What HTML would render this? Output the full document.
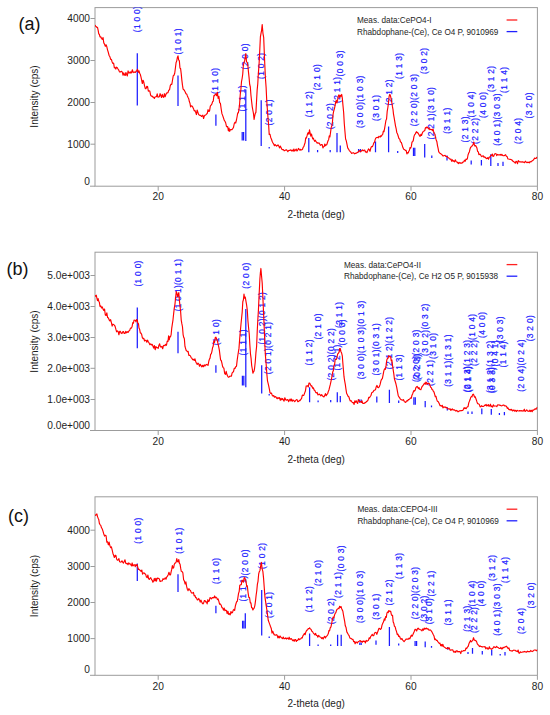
<!DOCTYPE html>
<html><head><meta charset="utf-8"><style>
html,body{margin:0;padding:0;background:#fff;}
body{width:550px;height:715px;overflow:hidden;}
svg{display:block;}
</style></head><body>
<svg width="550" height="715" viewBox="0 0 550 715">
<clipPath id="clip0"><rect x="95.0" y="7.6" width="442.4" height="178.6"/></clipPath>
<rect x="95.0" y="7.6" width="442.4" height="178.6" fill="none" stroke="#9c9c9c" stroke-width="1"/>
<line x1="90.0" y1="186.2" x2="95.0" y2="186.2" stroke="#9c9c9c" stroke-width="1"/>
<text x="90.0" y="184.6" font-size="10.2" text-anchor="end" fill="#1e1e1e" font-family="Liberation Sans, sans-serif">0</text>
<line x1="90.5" y1="144.2" x2="95.0" y2="144.2" stroke="#9c9c9c" stroke-width="1"/>
<text x="90.0" y="147.8" font-size="10.2" text-anchor="end" fill="#1e1e1e" font-family="Liberation Sans, sans-serif">1000</text>
<line x1="90.5" y1="102.5" x2="95.0" y2="102.5" stroke="#9c9c9c" stroke-width="1"/>
<text x="90.0" y="106.1" font-size="10.2" text-anchor="end" fill="#1e1e1e" font-family="Liberation Sans, sans-serif">2000</text>
<line x1="90.5" y1="60.5" x2="95.0" y2="60.5" stroke="#9c9c9c" stroke-width="1"/>
<text x="90.0" y="64.1" font-size="10.2" text-anchor="end" fill="#1e1e1e" font-family="Liberation Sans, sans-serif">3000</text>
<line x1="90.5" y1="18.5" x2="95.0" y2="18.5" stroke="#9c9c9c" stroke-width="1"/>
<text x="90.0" y="22.1" font-size="10.2" text-anchor="end" fill="#1e1e1e" font-family="Liberation Sans, sans-serif">4000</text>
<line x1="158.2" y1="186.2" x2="158.2" y2="190.7" stroke="#9c9c9c" stroke-width="1"/>
<text x="158.2" y="200.4" font-size="10.2" text-anchor="middle" fill="#1e1e1e" font-family="Liberation Sans, sans-serif">20</text>
<line x1="284.6" y1="186.2" x2="284.6" y2="190.7" stroke="#9c9c9c" stroke-width="1"/>
<text x="284.6" y="200.4" font-size="10.2" text-anchor="middle" fill="#1e1e1e" font-family="Liberation Sans, sans-serif">40</text>
<line x1="411.0" y1="186.2" x2="411.0" y2="190.7" stroke="#9c9c9c" stroke-width="1"/>
<text x="411.0" y="200.4" font-size="10.2" text-anchor="middle" fill="#1e1e1e" font-family="Liberation Sans, sans-serif">60</text>
<line x1="537.4" y1="186.2" x2="537.4" y2="190.7" stroke="#9c9c9c" stroke-width="1"/>
<text x="537.4" y="200.4" font-size="10.2" text-anchor="middle" fill="#1e1e1e" font-family="Liberation Sans, sans-serif">80</text>
<text x="316.2" y="218.2" font-size="10" text-anchor="middle" fill="#1e1e1e" font-family="Liberation Sans, sans-serif">2-theta (deg)</text>
<text transform="translate(37.8,96.5) rotate(-90)" font-size="10" text-anchor="middle" fill="#1e1e1e" font-family="Liberation Sans, sans-serif">Intensity (cps)</text>
<text x="18.6" y="29.5" font-size="18" fill="#111" font-family="Liberation Sans, sans-serif">(a)</text>
<text x="357.0" y="23.0" font-size="8.2" fill="#1e1e1e" font-family="Liberation Sans, sans-serif">Meas. data:CePO4-I</text>
<text x="357.0" y="34.6" font-size="8.2" fill="#1e1e1e" font-family="Liberation Sans, sans-serif">Rhabdophane-(Ce), Ce O4 P, 9010969</text>
<line x1="506.6" y1="20.0" x2="517.3" y2="20.0" stroke="#ff2020" stroke-width="1.3"/>
<line x1="506.6" y1="31.6" x2="517.3" y2="31.6" stroke="#2020ff" stroke-width="1.3"/>
<g clip-path="url(#clip0)"><line x1="137.3" y1="53.3" x2="137.3" y2="105.6" stroke="#1c1cff" stroke-width="1.25"/><line x1="178" y1="75.4" x2="178" y2="106" stroke="#1c1cff" stroke-width="1.25"/><line x1="215.9" y1="114.5" x2="215.9" y2="125.8" stroke="#1c1cff" stroke-width="1.25"/><line x1="242.2" y1="132" x2="242.2" y2="140.4" stroke="#1c1cff" stroke-width="1.25"/><line x1="243.6" y1="132" x2="243.6" y2="140.4" stroke="#1c1cff" stroke-width="1.25"/><line x1="245.8" y1="89.4" x2="245.8" y2="141" stroke="#1c1cff" stroke-width="1.25"/><line x1="261.2" y1="100.2" x2="261.2" y2="146" stroke="#1c1cff" stroke-width="1.25"/><line x1="269.2" y1="147" x2="269.2" y2="148.5" stroke="#1c1cff" stroke-width="1.25"/><line x1="308.8" y1="138" x2="308.8" y2="152.3" stroke="#1c1cff" stroke-width="1.25"/><line x1="317.6" y1="150" x2="317.6" y2="152.3" stroke="#1c1cff" stroke-width="1.25"/><line x1="330.2" y1="150" x2="330.2" y2="152.3" stroke="#1c1cff" stroke-width="1.25"/><line x1="337" y1="132.9" x2="337" y2="152.3" stroke="#1c1cff" stroke-width="1.25"/><line x1="340.3" y1="145.5" x2="340.3" y2="152.3" stroke="#1c1cff" stroke-width="1.25"/><line x1="358.6" y1="149" x2="358.6" y2="152.3" stroke="#1c1cff" stroke-width="1.25"/><line x1="360.4" y1="149" x2="360.4" y2="152.3" stroke="#1c1cff" stroke-width="1.25"/><line x1="375.5" y1="141.5" x2="375.5" y2="152.3" stroke="#1c1cff" stroke-width="1.25"/><line x1="388.6" y1="126.6" x2="388.6" y2="152.3" stroke="#1c1cff" stroke-width="1.25"/><line x1="397.7" y1="151" x2="397.7" y2="153" stroke="#1c1cff" stroke-width="1.25"/><line x1="413.5" y1="147.8" x2="413.5" y2="156" stroke="#1c1cff" stroke-width="1.25"/><line x1="414.8" y1="147.8" x2="414.8" y2="156" stroke="#1c1cff" stroke-width="1.25"/><line x1="424.7" y1="144" x2="424.7" y2="157.5" stroke="#1c1cff" stroke-width="1.25"/><line x1="431.8" y1="155.4" x2="431.8" y2="158" stroke="#1c1cff" stroke-width="1.25"/><line x1="447" y1="155.4" x2="447" y2="160.5" stroke="#1c1cff" stroke-width="1.25"/><line x1="471.2" y1="160.5" x2="471.2" y2="164.4" stroke="#1c1cff" stroke-width="1.25"/><line x1="481.4" y1="160" x2="481.4" y2="165.6" stroke="#1c1cff" stroke-width="1.25"/><line x1="490.8" y1="154.2" x2="490.8" y2="166.1" stroke="#1c1cff" stroke-width="1.25"/><line x1="498" y1="163" x2="498" y2="166" stroke="#1c1cff" stroke-width="1.25"/><line x1="503" y1="161.8" x2="503" y2="166" stroke="#1c1cff" stroke-width="1.25"/><text transform="translate(139.9,32.2) rotate(-90)" font-size="8.4" letter-spacing="0.3" fill="#1a1aff" stroke="#1a1aff" stroke-width="0.2" font-family="Liberation Sans, sans-serif">(1 0 0)</text><text transform="translate(181.1,54.4) rotate(-90)" font-size="8.4" letter-spacing="0.3" fill="#1a1aff" stroke="#1a1aff" stroke-width="0.2" font-family="Liberation Sans, sans-serif">(1 0 1)</text><text transform="translate(218.2,93.9) rotate(-90)" font-size="8.4" letter-spacing="0.3" fill="#1a1aff" stroke="#1a1aff" stroke-width="0.2" font-family="Liberation Sans, sans-serif">(1 1 0)</text><text transform="translate(245.0,111.4) rotate(-90)" font-size="8.4" letter-spacing="0.3" fill="#1a1aff" stroke="#1a1aff" stroke-width="0.2" font-family="Liberation Sans, sans-serif">(1 1 1)</text><text transform="translate(248.0,69.4) rotate(-90)" font-size="8.4" letter-spacing="0.3" fill="#1a1aff" stroke="#1a1aff" stroke-width="0.2" font-family="Liberation Sans, sans-serif">(2 0 0)</text><text transform="translate(263.7,78.9) rotate(-90)" font-size="8.4" letter-spacing="0.3" fill="#1a1aff" stroke="#1a1aff" stroke-width="0.2" font-family="Liberation Sans, sans-serif">(1 0 2)</text><text transform="translate(271.7,125.4) rotate(-90)" font-size="8.4" letter-spacing="0.3" fill="#1a1aff" stroke="#1a1aff" stroke-width="0.2" font-family="Liberation Sans, sans-serif">(2 0 1)</text><text transform="translate(311.8,117.2) rotate(-90)" font-size="8.4" letter-spacing="0.3" fill="#1a1aff" stroke="#1a1aff" stroke-width="0.2" font-family="Liberation Sans, sans-serif">(1 1 2)</text><text transform="translate(320.0,90.3) rotate(-90)" font-size="8.4" letter-spacing="0.3" fill="#1a1aff" stroke="#1a1aff" stroke-width="0.2" font-family="Liberation Sans, sans-serif">(2 1 0)</text><text transform="translate(332.9,129.3) rotate(-90)" font-size="8.4" letter-spacing="0.3" fill="#1a1aff" stroke="#1a1aff" stroke-width="0.2" font-family="Liberation Sans, sans-serif">(2 0 2)</text><text transform="translate(339.5,102.9) rotate(-90)" font-size="8.4" letter-spacing="0.3" fill="#1a1aff" stroke="#1a1aff" stroke-width="0.2" font-family="Liberation Sans, sans-serif">(2 1 1)</text><text transform="translate(342.5,76.4) rotate(-90)" font-size="8.4" letter-spacing="0.3" fill="#1a1aff" stroke="#1a1aff" stroke-width="0.2" font-family="Liberation Sans, sans-serif">(0 0 3)</text><text transform="translate(363.2,127.9) rotate(-90)" font-size="8.4" letter-spacing="0.3" fill="#1a1aff" stroke="#1a1aff" stroke-width="0.2" font-family="Liberation Sans, sans-serif">(3 0 0)(1 0 3)</text><text transform="translate(378.6,120.9) rotate(-90)" font-size="8.4" letter-spacing="0.3" fill="#1a1aff" stroke="#1a1aff" stroke-width="0.2" font-family="Liberation Sans, sans-serif">(3 0 1)</text><text transform="translate(392.4,105.4) rotate(-90)" font-size="8.4" letter-spacing="0.3" fill="#1a1aff" stroke="#1a1aff" stroke-width="0.2" font-family="Liberation Sans, sans-serif">(2 1 2)</text><text transform="translate(401.6,78.9) rotate(-90)" font-size="8.4" letter-spacing="0.3" fill="#1a1aff" stroke="#1a1aff" stroke-width="0.2" font-family="Liberation Sans, sans-serif">(1 1 3)</text><text transform="translate(417.3,126.2) rotate(-90)" font-size="8.4" letter-spacing="0.3" fill="#1a1aff" stroke="#1a1aff" stroke-width="0.2" font-family="Liberation Sans, sans-serif">(2 2 0)(2 0 3)</text><text transform="translate(427.4,73.9) rotate(-90)" font-size="8.4" letter-spacing="0.3" fill="#1a1aff" stroke="#1a1aff" stroke-width="0.2" font-family="Liberation Sans, sans-serif">(3 0 2)</text><text transform="translate(433.5,139.4) rotate(-90)" font-size="8.4" letter-spacing="0.3" fill="#1a1aff" stroke="#1a1aff" stroke-width="0.2" font-family="Liberation Sans, sans-serif">(2 2 1)(3 1 0)</text><text transform="translate(450.0,133.8) rotate(-90)" font-size="8.4" letter-spacing="0.3" fill="#1a1aff" stroke="#1a1aff" stroke-width="0.2" font-family="Liberation Sans, sans-serif">(3 1 1)</text><text transform="translate(467.9,142.4) rotate(-90)" font-size="8.4" letter-spacing="0.3" fill="#1a1aff" stroke="#1a1aff" stroke-width="0.2" font-family="Liberation Sans, sans-serif">(2 1 3)</text><text transform="translate(474.2,117.4) rotate(-90)" font-size="8.4" letter-spacing="0.3" fill="#1a1aff" stroke="#1a1aff" stroke-width="0.2" font-family="Liberation Sans, sans-serif">(1 0 4)</text><text transform="translate(478.0,143.9) rotate(-90)" font-size="8.4" letter-spacing="0.3" fill="#1a1aff" stroke="#1a1aff" stroke-width="0.2" font-family="Liberation Sans, sans-serif">(2 2 2)</text><text transform="translate(485.5,117.9) rotate(-90)" font-size="8.4" letter-spacing="0.3" fill="#1a1aff" stroke="#1a1aff" stroke-width="0.2" font-family="Liberation Sans, sans-serif">(4 0 0)</text><text transform="translate(499.6,145.8) rotate(-90)" font-size="8.4" letter-spacing="0.3" fill="#1a1aff" stroke="#1a1aff" stroke-width="0.2" font-family="Liberation Sans, sans-serif">(4 0 1)(3 0 3)</text><text transform="translate(493.9,91.9) rotate(-90)" font-size="8.4" letter-spacing="0.3" fill="#1a1aff" stroke="#1a1aff" stroke-width="0.2" font-family="Liberation Sans, sans-serif">(3 1 2)</text><text transform="translate(506.6,92.9) rotate(-90)" font-size="8.4" letter-spacing="0.3" fill="#1a1aff" stroke="#1a1aff" stroke-width="0.2" font-family="Liberation Sans, sans-serif">(1 1 4)</text><text transform="translate(520.9,143.9) rotate(-90)" font-size="8.4" letter-spacing="0.3" fill="#1a1aff" stroke="#1a1aff" stroke-width="0.2" font-family="Liberation Sans, sans-serif">(2 0 4)</text><text transform="translate(532.2,118.4) rotate(-90)" font-size="8.4" letter-spacing="0.3" fill="#1a1aff" stroke="#1a1aff" stroke-width="0.2" font-family="Liberation Sans, sans-serif">(3 2 0)</text><path d="M95.00,24.97 L95.62,26.31 L96.25,26.62 L96.88,27.42 L97.50,27.33 L98.12,30.12 L98.75,33.91 L99.38,34.33 L100.00,36.91 L100.76,36.87 L101.52,38.37 L102.28,39.28 L103.04,37.53 L103.80,42.88 L104.56,44.31 L105.32,46.30 L106.08,44.82 L106.84,46.76 L107.60,50.11 L108.36,52.53 L109.12,55.49 L109.88,56.71 L110.64,59.33 L111.40,59.33 L112.14,62.02 L112.88,63.41 L113.62,63.10 L114.36,67.88 L115.10,67.42 L115.83,69.08 L116.56,67.15 L117.29,67.71 L118.01,69.01 L118.74,70.09 L119.47,71.88 L120.20,72.06 L120.91,71.52 L121.63,71.24 L122.34,72.33 L123.06,75.27 L123.77,72.84 L124.49,74.79 L125.20,75.50 L125.91,72.50 L126.63,74.40 L127.34,75.90 L128.06,70.89 L128.77,73.01 L129.49,73.03 L130.20,71.73 L130.93,73.26 L131.66,72.10 L132.39,69.72 L133.11,72.66 L133.84,72.08 L134.57,72.12 L135.30,72.48 L136.04,71.18 L136.78,71.09 L137.52,69.31 L138.26,72.33 L139.00,70.82 L139.65,73.26 L140.30,74.32 L140.95,76.95 L141.60,79.77 L142.34,83.53 L143.08,80.25 L143.82,82.30 L144.56,85.86 L145.30,88.73 L146.06,88.57 L146.82,86.28 L147.58,86.48 L148.34,91.27 L149.10,90.84 L149.86,91.35 L150.62,95.06 L151.38,96.22 L152.14,96.00 L152.90,97.11 L153.61,97.18 L154.33,98.49 L155.04,97.07 L155.76,96.78 L156.47,96.64 L157.19,93.77 L157.90,97.24 L158.63,96.99 L159.36,96.62 L160.09,93.60 L160.81,95.48 L161.54,97.53 L162.27,94.32 L163.00,96.57 L163.71,97.39 L164.43,93.69 L165.14,96.73 L165.86,94.66 L166.57,93.03 L167.29,92.94 L168.00,92.65 L168.76,90.20 L169.52,89.80 L170.28,85.63 L171.04,84.20 L171.80,84.42 L172.54,80.02 L173.28,75.72 L174.02,75.29 L174.76,73.03 L175.50,67.25 L176.10,62.55 L176.70,61.10 L177.30,57.77 L178.00,55.84 L178.70,60.14 L179.33,60.60 L179.97,68.12 L180.60,68.57 L181.22,73.68 L181.85,80.08 L182.47,85.14 L183.10,89.14 L183.81,89.71 L184.53,90.70 L185.24,91.97 L185.96,93.77 L186.67,94.06 L187.39,95.90 L188.10,97.53 L188.72,98.70 L189.35,101.55 L189.97,103.20 L190.60,106.84 L191.33,105.86 L192.06,106.03 L192.79,107.17 L193.51,108.67 L194.24,110.84 L194.97,110.44 L195.70,112.35 L196.41,114.56 L197.13,110.04 L197.84,112.24 L198.56,114.35 L199.27,115.07 L199.99,115.43 L200.70,115.21 L201.42,116.46 L202.13,116.05 L202.85,115.16 L203.57,118.51 L204.28,116.18 L205.00,115.18 L205.76,114.93 L206.52,114.02 L207.28,113.45 L208.04,109.62 L208.80,111.44 L209.56,110.93 L210.32,106.09 L211.08,105.14 L211.84,104.13 L212.60,101.76 L213.26,101.05 L213.92,95.51 L214.58,95.69 L215.24,94.18 L215.90,93.91 L216.65,95.78 L217.40,92.22 L218.15,98.31 L218.90,96.38 L219.66,102.56 L220.42,103.44 L221.18,108.97 L221.94,113.66 L222.70,115.63 L223.44,117.77 L224.18,120.20 L224.92,121.23 L225.66,122.75 L226.40,126.22 L227.06,126.86 L227.72,126.62 L228.38,130.89 L229.04,128.08 L229.70,131.32 L230.45,129.63 L231.20,129.53 L231.95,129.62 L232.70,128.63 L233.46,127.54 L234.22,123.76 L234.98,122.24 L235.74,122.98 L236.50,119.75 L237.12,116.51 L237.75,112.83 L238.38,112.82 L239.00,109.09 L239.62,103.74 L240.25,94.45 L240.88,89.38 L241.50,81.54 L242.12,78.50 L242.75,74.04 L243.38,64.76 L244.00,62.75 L244.60,60.63 L245.20,57.60 L245.80,53.58 L246.47,61.66 L247.13,62.32 L247.80,64.51 L248.43,71.65 L249.05,77.33 L249.68,84.48 L250.30,86.74 L250.95,95.22 L251.60,101.26 L252.25,106.81 L252.90,110.49 L253.50,113.65 L254.10,119.43 L254.70,115.90 L255.30,113.38 L255.90,112.36 L256.52,101.57 L257.15,90.12 L257.77,83.77 L258.40,72.88 L259.07,64.16 L259.73,50.86 L260.40,36.80 L261.00,33.32 L261.60,30.27 L262.20,24.53 L262.95,33.32 L263.70,37.70 L264.27,52.00 L264.83,65.16 L265.40,77.78 L266.10,87.21 L266.80,101.79 L267.50,111.15 L268.07,118.82 L268.63,124.67 L269.20,134.44 L269.96,134.24 L270.72,137.43 L271.48,139.28 L272.24,141.45 L273.00,142.98 L273.71,144.06 L274.43,145.77 L275.14,144.61 L275.86,145.39 L276.57,146.15 L277.29,145.47 L278.00,144.93 L278.76,146.03 L279.52,147.90 L280.28,146.12 L281.04,147.50 L281.80,149.33 L282.56,149.65 L283.32,149.51 L284.08,150.65 L284.84,150.63 L285.60,150.06 L286.35,149.75 L287.10,150.49 L287.85,151.74 L288.60,150.55 L289.35,150.28 L290.10,150.39 L290.85,149.78 L291.60,150.91 L292.35,150.06 L293.10,151.29 L293.87,149.00 L294.63,151.04 L295.40,150.15 L296.17,149.00 L296.93,151.03 L297.70,150.11 L298.47,148.42 L299.23,149.40 L300.00,150.24 L300.62,149.30 L301.25,149.99 L301.88,149.64 L302.50,149.25 L303.15,147.40 L303.80,146.69 L304.45,144.55 L305.10,142.80 L305.73,137.93 L306.37,138.11 L307.00,135.96 L307.62,133.61 L308.25,132.64 L308.88,134.21 L309.50,129.75 L310.15,133.09 L310.80,136.11 L311.45,133.98 L312.10,136.66 L312.73,138.90 L313.35,138.14 L313.98,139.89 L314.60,141.32 L315.25,140.16 L315.90,141.37 L316.55,142.19 L317.20,143.13 L317.82,142.84 L318.45,143.18 L319.07,142.94 L319.70,143.99 L320.35,145.37 L321.00,144.99 L321.65,144.47 L322.30,144.78 L322.93,147.96 L323.55,146.82 L324.18,146.57 L324.80,144.00 L325.45,145.78 L326.10,144.72 L326.75,144.83 L327.40,142.78 L328.02,140.74 L328.65,139.68 L329.27,135.78 L329.90,136.98 L330.53,132.49 L331.17,127.62 L331.80,125.90 L332.43,122.24 L333.07,114.45 L333.70,111.03 L334.33,109.18 L334.97,106.09 L335.60,102.41 L336.25,100.42 L336.90,102.99 L337.55,100.38 L338.20,96.29 L338.97,94.82 L339.73,97.45 L340.50,95.28 L341.10,96.05 L341.70,94.45 L342.35,98.36 L343.00,105.81 L343.65,112.55 L344.30,123.71 L344.95,131.44 L345.60,138.99 L346.30,140.85 L347.00,144.39 L347.70,147.88 L348.50,149.06 L349.30,150.52 L350.10,151.42 L350.90,152.25 L351.66,153.37 L352.42,153.06 L353.18,152.64 L353.94,153.06 L354.70,153.80 L355.46,153.34 L356.22,153.16 L356.98,152.66 L357.74,152.42 L358.50,151.79 L359.28,150.52 L360.06,151.48 L360.84,151.60 L361.62,150.73 L362.40,149.85 L363.16,150.86 L363.92,150.23 L364.68,150.00 L365.44,152.05 L366.20,151.77 L366.96,152.58 L367.72,150.64 L368.48,148.90 L369.24,149.67 L370.00,151.28 L370.62,148.74 L371.25,146.96 L371.88,146.51 L372.50,146.64 L373.15,144.88 L373.80,142.86 L374.45,142.29 L375.10,139.85 L375.73,138.11 L376.37,137.63 L377.00,137.58 L377.63,137.35 L378.27,137.83 L378.90,136.28 L379.53,136.73 L380.17,137.13 L380.80,135.72 L381.43,136.19 L382.07,134.91 L382.70,134.39 L383.35,131.04 L384.00,131.59 L384.65,128.03 L385.30,124.27 L385.93,120.37 L386.57,118.95 L387.20,111.40 L387.83,107.75 L388.47,102.81 L389.10,96.51 L389.75,94.41 L390.40,95.54 L391.15,98.90 L391.90,103.00 L392.43,106.38 L392.97,109.30 L393.50,114.08 L394.17,117.94 L394.83,121.79 L395.50,125.86 L396.13,128.52 L396.77,132.41 L397.40,133.68 L398.17,136.03 L398.95,138.55 L399.73,139.14 L400.50,142.01 L401.30,142.22 L402.10,144.96 L402.90,147.60 L403.70,149.17 L404.50,149.61 L405.30,150.41 L406.10,150.43 L406.90,153.93 L407.53,152.70 L408.17,152.96 L408.80,151.21 L409.43,150.28 L410.07,147.47 L410.70,148.15 L411.35,146.38 L412.00,141.99 L412.65,141.68 L413.30,140.38 L413.93,136.58 L414.55,134.92 L415.18,134.05 L415.80,132.89 L416.43,131.69 L417.07,132.66 L417.70,132.45 L418.33,133.65 L418.97,134.55 L419.60,136.15 L420.23,136.25 L420.87,134.31 L421.50,135.52 L422.17,133.48 L422.83,131.94 L423.50,131.42 L424.13,130.87 L424.77,130.73 L425.40,128.00 L425.93,127.51 L426.47,127.91 L427.00,126.89 L427.75,127.73 L428.50,128.94 L429.17,128.23 L429.83,129.71 L430.50,129.36 L431.13,129.54 L431.77,129.59 L432.40,130.73 L433.03,129.07 L433.67,131.67 L434.30,133.54 L434.93,134.16 L435.57,137.89 L436.20,139.93 L436.82,141.45 L437.45,145.34 L438.07,148.17 L438.70,151.67 L439.37,152.75 L440.03,153.21 L440.70,153.55 L441.43,154.45 L442.16,154.87 L442.89,155.82 L443.61,155.85 L444.34,155.45 L445.07,155.35 L445.80,156.43 L446.53,156.53 L447.26,156.64 L447.99,157.73 L448.71,157.84 L449.44,158.63 L450.17,159.30 L450.90,159.01 L451.63,161.27 L452.36,159.79 L453.09,161.12 L453.81,160.81 L454.54,161.84 L455.27,159.85 L456.00,161.30 L456.79,162.06 L457.57,162.40 L458.36,163.64 L459.15,162.41 L459.94,163.14 L460.73,162.90 L461.51,163.12 L462.30,162.93 L463.03,161.95 L463.77,161.84 L464.50,160.22 L465.23,161.21 L465.97,159.15 L466.70,159.47 L467.36,158.77 L468.02,155.01 L468.68,153.14 L469.34,151.99 L470.00,149.02 L470.76,147.07 L471.52,146.70 L472.28,145.72 L473.04,144.58 L473.80,142.02 L474.43,145.19 L475.05,146.04 L475.68,145.57 L476.30,146.73 L476.95,148.07 L477.60,151.49 L478.25,151.72 L478.90,154.71 L479.63,154.19 L480.36,154.39 L481.09,155.81 L481.81,156.62 L482.54,155.98 L483.27,155.85 L484.00,157.29 L484.76,156.92 L485.52,157.44 L486.28,158.58 L487.04,158.55 L487.80,157.63 L488.56,159.12 L489.32,156.96 L490.08,157.02 L490.84,155.44 L491.60,155.37 L492.33,153.99 L493.06,156.54 L493.79,156.12 L494.51,154.09 L495.24,153.77 L495.97,153.58 L496.70,155.59 L497.43,154.45 L498.16,154.85 L498.89,154.77 L499.61,155.01 L500.34,154.39 L501.07,155.32 L501.80,154.33 L502.56,155.35 L503.32,155.63 L504.08,155.75 L504.84,155.23 L505.60,154.73 L506.36,156.30 L507.12,156.61 L507.88,158.86 L508.64,159.06 L509.40,159.22 L510.13,159.33 L510.86,159.53 L511.59,159.73 L512.31,160.49 L513.04,161.28 L513.77,161.79 L514.50,162.18 L515.26,163.19 L516.02,161.33 L516.78,161.81 L517.54,163.66 L518.30,160.56 L519.06,161.45 L519.82,161.91 L520.58,161.90 L521.34,162.07 L522.10,161.64 L522.90,162.19 L523.70,162.13 L524.50,162.76 L525.30,161.16 L526.10,161.97 L526.90,162.70 L527.70,162.18 L528.50,162.32 L529.26,162.91 L530.02,161.57 L530.78,161.92 L531.54,161.50 L532.30,160.71 L533.06,160.35 L533.82,159.43 L534.58,158.01 L535.34,158.48 L536.10,158.32 L536.75,157.37 L537.40,157.50" fill="none" stroke="#ff0000" stroke-width="1.15" stroke-linejoin="round"/></g>
<clipPath id="clip1"><rect x="95.0" y="252.2" width="442.4" height="178.3"/></clipPath>
<rect x="95.0" y="252.2" width="442.4" height="178.3" fill="none" stroke="#9c9c9c" stroke-width="1"/>
<line x1="90.0" y1="430.5" x2="95.0" y2="430.5" stroke="#9c9c9c" stroke-width="1"/>
<text x="90.0" y="428.6" font-size="10.2" text-anchor="end" fill="#1e1e1e" font-family="Liberation Sans, sans-serif">0.0e+000</text>
<line x1="90.5" y1="399.5" x2="95.0" y2="399.5" stroke="#9c9c9c" stroke-width="1"/>
<text x="90.0" y="403.1" font-size="10.2" text-anchor="end" fill="#1e1e1e" font-family="Liberation Sans, sans-serif">1.0e+003</text>
<line x1="90.5" y1="368.3" x2="95.0" y2="368.3" stroke="#9c9c9c" stroke-width="1"/>
<text x="90.0" y="371.9" font-size="10.2" text-anchor="end" fill="#1e1e1e" font-family="Liberation Sans, sans-serif">2.0e+003</text>
<line x1="90.5" y1="337.5" x2="95.0" y2="337.5" stroke="#9c9c9c" stroke-width="1"/>
<text x="90.0" y="341.1" font-size="10.2" text-anchor="end" fill="#1e1e1e" font-family="Liberation Sans, sans-serif">3.0e+003</text>
<line x1="90.5" y1="306.5" x2="95.0" y2="306.5" stroke="#9c9c9c" stroke-width="1"/>
<text x="90.0" y="310.1" font-size="10.2" text-anchor="end" fill="#1e1e1e" font-family="Liberation Sans, sans-serif">4.0e+003</text>
<line x1="90.5" y1="275.5" x2="95.0" y2="275.5" stroke="#9c9c9c" stroke-width="1"/>
<text x="90.0" y="279.1" font-size="10.2" text-anchor="end" fill="#1e1e1e" font-family="Liberation Sans, sans-serif">5.0e+003</text>
<line x1="158.2" y1="430.5" x2="158.2" y2="435.0" stroke="#9c9c9c" stroke-width="1"/>
<text x="158.2" y="444.7" font-size="10.2" text-anchor="middle" fill="#1e1e1e" font-family="Liberation Sans, sans-serif">20</text>
<line x1="284.6" y1="430.5" x2="284.6" y2="435.0" stroke="#9c9c9c" stroke-width="1"/>
<text x="284.6" y="444.7" font-size="10.2" text-anchor="middle" fill="#1e1e1e" font-family="Liberation Sans, sans-serif">40</text>
<line x1="411.0" y1="430.5" x2="411.0" y2="435.0" stroke="#9c9c9c" stroke-width="1"/>
<text x="411.0" y="444.7" font-size="10.2" text-anchor="middle" fill="#1e1e1e" font-family="Liberation Sans, sans-serif">60</text>
<line x1="537.4" y1="430.5" x2="537.4" y2="435.0" stroke="#9c9c9c" stroke-width="1"/>
<text x="537.4" y="444.7" font-size="10.2" text-anchor="middle" fill="#1e1e1e" font-family="Liberation Sans, sans-serif">80</text>
<text x="316.2" y="462.5" font-size="10" text-anchor="middle" fill="#1e1e1e" font-family="Liberation Sans, sans-serif">2-theta (deg)</text>
<text transform="translate(37.8,341.5) rotate(-90)" font-size="10" text-anchor="middle" fill="#1e1e1e" font-family="Liberation Sans, sans-serif">Intensity (cps)</text>
<text x="6.6" y="275.1" font-size="18" fill="#111" font-family="Liberation Sans, sans-serif">(b)</text>
<text x="344" y="267.6" font-size="8.2" fill="#1e1e1e" font-family="Liberation Sans, sans-serif">Meas. data:CePO4-II</text>
<text x="344" y="279.2" font-size="8.2" fill="#1e1e1e" font-family="Liberation Sans, sans-serif">Rhabdophane-(Ce), Ce H2 O5 P, 9015938</text>
<line x1="506.6" y1="264.6" x2="517.3" y2="264.6" stroke="#ff2020" stroke-width="1.3"/>
<line x1="506.6" y1="276.2" x2="517.3" y2="276.2" stroke="#2020ff" stroke-width="1.3"/>
<g clip-path="url(#clip1)"><line x1="137.3" y1="307.4" x2="137.3" y2="348.2" stroke="#1c1cff" stroke-width="1.25"/><line x1="178" y1="331.8" x2="178" y2="353.2" stroke="#1c1cff" stroke-width="1.25"/><line x1="215.9" y1="365.3" x2="215.9" y2="372.8" stroke="#1c1cff" stroke-width="1.25"/><line x1="242.4" y1="375.8" x2="242.4" y2="385.4" stroke="#1c1cff" stroke-width="1.25"/><line x1="243.8" y1="375.8" x2="243.8" y2="385.4" stroke="#1c1cff" stroke-width="1.25"/><line x1="245.8" y1="309.1" x2="245.8" y2="387.2" stroke="#1c1cff" stroke-width="1.25"/><line x1="261.7" y1="365.3" x2="261.7" y2="393.5" stroke="#1c1cff" stroke-width="1.25"/><line x1="269.2" y1="394" x2="269.2" y2="395.5" stroke="#1c1cff" stroke-width="1.25"/><line x1="309.6" y1="387.2" x2="309.6" y2="402.3" stroke="#1c1cff" stroke-width="1.25"/><line x1="318.1" y1="400.5" x2="318.1" y2="402.3" stroke="#1c1cff" stroke-width="1.25"/><line x1="330.7" y1="400" x2="330.7" y2="402.3" stroke="#1c1cff" stroke-width="1.25"/><line x1="337.3" y1="392.2" x2="337.3" y2="402.3" stroke="#1c1cff" stroke-width="1.25"/><line x1="340.3" y1="396" x2="340.3" y2="402.3" stroke="#1c1cff" stroke-width="1.25"/><line x1="359.6" y1="399.5" x2="359.6" y2="402.8" stroke="#1c1cff" stroke-width="1.25"/><line x1="361.2" y1="399.5" x2="361.2" y2="402.8" stroke="#1c1cff" stroke-width="1.25"/><line x1="376.8" y1="396.5" x2="376.8" y2="402.5" stroke="#1c1cff" stroke-width="1.25"/><line x1="389.4" y1="389.7" x2="389.4" y2="403" stroke="#1c1cff" stroke-width="1.25"/><line x1="398.7" y1="400.5" x2="398.7" y2="403" stroke="#1c1cff" stroke-width="1.25"/><line x1="413.9" y1="397.2" x2="413.9" y2="404.8" stroke="#1c1cff" stroke-width="1.25"/><line x1="415.3" y1="397.2" x2="415.3" y2="404.8" stroke="#1c1cff" stroke-width="1.25"/><line x1="425.2" y1="401" x2="425.2" y2="407.3" stroke="#1c1cff" stroke-width="1.25"/><line x1="431.5" y1="405.5" x2="431.5" y2="407.3" stroke="#1c1cff" stroke-width="1.25"/><line x1="447.3" y1="407.3" x2="447.3" y2="410.6" stroke="#1c1cff" stroke-width="1.25"/><line x1="468" y1="411.5" x2="468" y2="414" stroke="#1c1cff" stroke-width="1.25"/><line x1="472" y1="411.5" x2="472" y2="414" stroke="#1c1cff" stroke-width="1.25"/><line x1="481.8" y1="408.6" x2="481.8" y2="414.3" stroke="#1c1cff" stroke-width="1.25"/><line x1="491.3" y1="409" x2="491.3" y2="414.8" stroke="#1c1cff" stroke-width="1.25"/><line x1="499.4" y1="413" x2="499.4" y2="415" stroke="#1c1cff" stroke-width="1.25"/><line x1="504.4" y1="412" x2="504.4" y2="415.3" stroke="#1c1cff" stroke-width="1.25"/><text transform="translate(140.5,286.6) rotate(-90)" font-size="8.4" letter-spacing="0.3" fill="#1a1aff" stroke="#1a1aff" stroke-width="0.2" font-family="Liberation Sans, sans-serif">(1 0 0)</text><text transform="translate(181.0,311.3) rotate(-90)" font-size="8.4" letter-spacing="0.3" fill="#1a1aff" stroke="#1a1aff" stroke-width="0.2" font-family="Liberation Sans, sans-serif">(1 0 1)(0 1 1)</text><text transform="translate(219.1,345.3) rotate(-90)" font-size="8.4" letter-spacing="0.3" fill="#1a1aff" stroke="#1a1aff" stroke-width="0.2" font-family="Liberation Sans, sans-serif">(1 1 0)</text><text transform="translate(246.2,355.4) rotate(-90)" font-size="8.4" letter-spacing="0.3" fill="#1a1aff" stroke="#1a1aff" stroke-width="0.2" font-family="Liberation Sans, sans-serif">(1 1 1)</text><text transform="translate(248.8,288.7) rotate(-90)" font-size="8.4" letter-spacing="0.3" fill="#1a1aff" stroke="#1a1aff" stroke-width="0.2" font-family="Liberation Sans, sans-serif">(2 0 0)</text><text transform="translate(264.6,344.5) rotate(-90)" font-size="8.4" letter-spacing="0.3" fill="#1a1aff" stroke="#1a1aff" stroke-width="0.2" font-family="Liberation Sans, sans-serif">(1 0 2)(0 1 2)</text><text transform="translate(271.4,374.2) rotate(-90)" font-size="8.4" letter-spacing="0.3" fill="#1a1aff" stroke="#1a1aff" stroke-width="0.2" font-family="Liberation Sans, sans-serif">(2 0 1)(0 2 1)</text><text transform="translate(312.0,365.4) rotate(-90)" font-size="8.4" letter-spacing="0.3" fill="#1a1aff" stroke="#1a1aff" stroke-width="0.2" font-family="Liberation Sans, sans-serif">(1 1 2)</text><text transform="translate(321.1,339.5) rotate(-90)" font-size="8.4" letter-spacing="0.3" fill="#1a1aff" stroke="#1a1aff" stroke-width="0.2" font-family="Liberation Sans, sans-serif">(2 1 0)</text><text transform="translate(333.5,380.5) rotate(-90)" font-size="8.4" letter-spacing="0.3" fill="#1a1aff" stroke="#1a1aff" stroke-width="0.2" font-family="Liberation Sans, sans-serif">(2 0 2)(0 2 2)</text><text transform="translate(340.4,370.6) rotate(-90)" font-size="8.4" letter-spacing="0.3" fill="#1a1aff" stroke="#1a1aff" stroke-width="0.2" font-family="Liberation Sans, sans-serif">(1 2 1)</text><text transform="translate(342.0,327.9) rotate(-90)" font-size="8.4" letter-spacing="0.3" fill="#1a1aff" stroke="#1a1aff" stroke-width="0.2" font-family="Liberation Sans, sans-serif">(2 1 1)</text><text transform="translate(345.2,345.4) rotate(-90)" font-size="8.4" letter-spacing="0.3" fill="#1a1aff" stroke="#1a1aff" stroke-width="0.2" font-family="Liberation Sans, sans-serif">(0 0 3)</text><text transform="translate(363.9,379.3) rotate(-90)" font-size="8.4" letter-spacing="0.3" fill="#1a1aff" stroke="#1a1aff" stroke-width="0.2" font-family="Liberation Sans, sans-serif">(3 0 0)(1 0 3)(0 1 3)</text><text transform="translate(379.0,375.5) rotate(-90)" font-size="8.4" letter-spacing="0.3" fill="#1a1aff" stroke="#1a1aff" stroke-width="0.2" font-family="Liberation Sans, sans-serif">(3 0 1)(0 3 1)</text><text transform="translate(392.3,369.2) rotate(-90)" font-size="8.4" letter-spacing="0.3" fill="#1a1aff" stroke="#1a1aff" stroke-width="0.2" font-family="Liberation Sans, sans-serif">(2 1 2)(1 2 2)</text><text transform="translate(402.4,380.5) rotate(-90)" font-size="8.4" letter-spacing="0.3" fill="#1a1aff" stroke="#1a1aff" stroke-width="0.2" font-family="Liberation Sans, sans-serif">(1 1 3)</text><text transform="translate(418.5,381.9) rotate(-90)" font-size="8.4" letter-spacing="0.3" fill="#1a1aff" stroke="#1a1aff" stroke-width="0.2" font-family="Liberation Sans, sans-serif">(2 2 0)(2 0 3)</text><text transform="translate(419.5,379.9) rotate(-90)" font-size="8.4" letter-spacing="0.3" fill="#1a1aff" stroke="#1a1aff" stroke-width="0.2" font-family="Liberation Sans, sans-serif">(0 2 3)</text><text transform="translate(428.2,355.9) rotate(-90)" font-size="8.4" letter-spacing="0.3" fill="#1a1aff" stroke="#1a1aff" stroke-width="0.2" font-family="Liberation Sans, sans-serif">(3 0 2)(0 3 2)</text><text transform="translate(433.2,385.9) rotate(-90)" font-size="8.4" letter-spacing="0.3" fill="#1a1aff" stroke="#1a1aff" stroke-width="0.2" font-family="Liberation Sans, sans-serif">(2 2 1)</text><text transform="translate(435.8,358.9) rotate(-90)" font-size="8.4" letter-spacing="0.3" fill="#1a1aff" stroke="#1a1aff" stroke-width="0.2" font-family="Liberation Sans, sans-serif">(3 1 0)</text><text transform="translate(450.5,386.8) rotate(-90)" font-size="8.4" letter-spacing="0.3" fill="#1a1aff" stroke="#1a1aff" stroke-width="0.2" font-family="Liberation Sans, sans-serif">(3 1 1)(1 3 1)</text><text transform="translate(469.8,392.2) rotate(-90)" font-size="8.4" letter-spacing="0.3" fill="#1a1aff" stroke="#1a1aff" stroke-width="0.2" font-family="Liberation Sans, sans-serif">(2 1 3)(1 2 3)</text><text transform="translate(471.4,392.2) rotate(-90)" font-size="8.4" letter-spacing="0.3" fill="#1a1aff" stroke="#1a1aff" stroke-width="0.2" font-family="Liberation Sans, sans-serif">(0 1 4)</text><text transform="translate(477.0,365.9) rotate(-90)" font-size="8.4" letter-spacing="0.3" fill="#1a1aff" stroke="#1a1aff" stroke-width="0.2" font-family="Liberation Sans, sans-serif">(2 2 2)</text><text transform="translate(475.2,339.9) rotate(-90)" font-size="8.4" letter-spacing="0.3" fill="#1a1aff" stroke="#1a1aff" stroke-width="0.2" font-family="Liberation Sans, sans-serif">(1 0 4)</text><text transform="translate(484.5,337.9) rotate(-90)" font-size="8.4" letter-spacing="0.3" fill="#1a1aff" stroke="#1a1aff" stroke-width="0.2" font-family="Liberation Sans, sans-serif">(4 0 0)</text><text transform="translate(493.2,393.1) rotate(-90)" font-size="8.4" letter-spacing="0.3" fill="#1a1aff" stroke="#1a1aff" stroke-width="0.2" font-family="Liberation Sans, sans-serif">(3 1 2)(1 3 2)</text><text transform="translate(494.9,393.1) rotate(-90)" font-size="8.4" letter-spacing="0.3" fill="#1a1aff" stroke="#1a1aff" stroke-width="0.2" font-family="Liberation Sans, sans-serif">(0 3 3)</text><text transform="translate(497.8,366.4) rotate(-90)" font-size="8.4" letter-spacing="0.3" fill="#1a1aff" stroke="#1a1aff" stroke-width="0.2" font-family="Liberation Sans, sans-serif">(0 4 1)</text><text transform="translate(502.7,342.4) rotate(-90)" font-size="8.4" letter-spacing="0.3" fill="#1a1aff" stroke="#1a1aff" stroke-width="0.2" font-family="Liberation Sans, sans-serif">(3 0 3)</text><text transform="translate(505.5,367.4) rotate(-90)" font-size="8.4" letter-spacing="0.3" fill="#1a1aff" stroke="#1a1aff" stroke-width="0.2" font-family="Liberation Sans, sans-serif">(1 1 4)</text><text transform="translate(524.1,391.7) rotate(-90)" font-size="8.4" letter-spacing="0.3" fill="#1a1aff" stroke="#1a1aff" stroke-width="0.2" font-family="Liberation Sans, sans-serif">(2 0 4)(0 2 4)</text><text transform="translate(533.4,341.3) rotate(-90)" font-size="8.4" letter-spacing="0.3" fill="#1a1aff" stroke="#1a1aff" stroke-width="0.2" font-family="Liberation Sans, sans-serif">(3 2 0)</text><path d="M95.00,295.25 L95.62,296.28 L96.25,295.18 L96.88,298.17 L97.50,300.68 L98.12,298.52 L98.75,301.17 L99.38,302.30 L100.00,306.43 L100.76,305.84 L101.52,307.96 L102.28,306.85 L103.04,309.12 L103.80,310.39 L104.56,309.06 L105.32,315.02 L106.08,315.48 L106.84,312.92 L107.60,317.77 L108.36,317.77 L109.12,319.86 L109.88,321.00 L110.64,319.64 L111.40,322.70 L112.14,326.07 L112.88,324.21 L113.62,324.59 L114.36,325.14 L115.10,326.34 L115.86,329.21 L116.62,331.81 L117.38,330.86 L118.14,331.37 L118.90,334.78 L119.66,331.37 L120.42,331.42 L121.18,333.28 L121.94,333.57 L122.70,331.75 L123.46,331.55 L124.22,333.49 L124.98,333.43 L125.74,331.37 L126.50,332.83 L127.30,331.73 L128.10,332.41 L128.90,330.99 L129.70,330.38 L130.47,328.15 L131.25,328.19 L132.03,326.80 L132.80,322.49 L133.43,323.23 L134.05,320.04 L134.68,320.25 L135.30,320.26 L135.97,321.78 L136.63,319.53 L137.30,320.40 L137.87,323.27 L138.43,323.44 L139.00,328.02 L139.65,329.29 L140.30,332.89 L140.95,333.11 L141.60,334.23 L142.34,337.61 L143.08,338.66 L143.82,338.37 L144.56,340.98 L145.30,340.25 L146.06,340.33 L146.82,342.21 L147.58,340.12 L148.34,341.75 L149.10,343.07 L149.86,344.66 L150.62,343.90 L151.38,344.98 L152.14,344.29 L152.90,345.97 L153.66,348.07 L154.42,345.59 L155.18,349.77 L155.94,346.49 L156.70,347.72 L157.44,347.59 L158.18,348.32 L158.92,345.22 L159.66,343.83 L160.40,346.85 L161.16,346.88 L161.92,346.47 L162.68,348.76 L163.44,345.55 L164.20,345.42 L164.96,345.62 L165.72,344.28 L166.48,345.27 L167.24,340.98 L168.00,341.43 L168.62,335.93 L169.25,339.80 L169.88,336.69 L170.50,336.81 L171.12,334.70 L171.75,328.04 L172.38,323.92 L173.00,319.80 L173.67,313.42 L174.33,307.83 L175.00,303.87 L175.65,297.26 L176.30,291.61 L176.95,293.13 L177.60,296.73 L178.20,294.83 L178.80,292.58 L179.40,300.52 L180.00,305.97 L180.60,311.22 L181.22,320.03 L181.85,323.65 L182.47,326.75 L183.10,334.53 L183.72,337.32 L184.35,338.66 L184.97,346.43 L185.60,348.61 L186.22,350.53 L186.85,350.94 L187.47,351.77 L188.10,351.37 L188.86,355.34 L189.62,355.24 L190.38,355.87 L191.14,357.60 L191.90,358.29 L192.66,359.73 L193.42,359.30 L194.18,360.44 L194.94,358.85 L195.70,361.53 L196.46,363.25 L197.22,364.48 L197.98,363.10 L198.74,363.87 L199.50,366.23 L200.29,364.33 L201.07,365.67 L201.86,366.88 L202.64,365.29 L203.43,366.76 L204.21,364.85 L205.00,366.02 L205.76,364.96 L206.52,364.41 L207.28,364.76 L208.04,365.40 L208.80,361.26 L209.43,359.15 L210.05,358.17 L210.68,354.17 L211.30,353.79 L211.93,351.36 L212.55,347.81 L213.18,346.28 L213.80,341.15 L214.50,342.40 L215.20,337.79 L215.90,337.20 L216.63,339.05 L217.37,340.92 L218.10,344.18 L218.72,346.98 L219.35,350.17 L219.97,355.06 L220.60,360.01 L221.26,360.49 L221.92,363.16 L222.58,366.39 L223.24,367.61 L223.90,368.25 L224.66,373.43 L225.42,374.35 L226.18,371.30 L226.94,374.52 L227.70,376.21 L228.32,377.08 L228.95,377.11 L229.57,376.51 L230.20,376.07 L230.82,376.25 L231.45,376.23 L232.07,373.15 L232.70,372.26 L233.46,371.77 L234.22,368.28 L234.98,368.53 L235.74,366.83 L236.50,366.29 L237.12,360.62 L237.75,355.98 L238.38,352.13 L239.00,348.14 L239.67,338.95 L240.33,331.42 L241.00,324.05 L241.60,318.00 L242.20,312.12 L242.80,301.71 L243.40,299.72 L244.00,293.99 L244.60,298.27 L245.27,297.11 L245.93,301.12 L246.60,304.89 L247.27,310.08 L247.93,320.69 L248.60,327.96 L249.22,333.79 L249.85,344.71 L250.47,353.94 L251.10,358.60 L251.70,365.61 L252.30,368.99 L252.90,373.28 L253.47,371.76 L254.03,371.17 L254.60,368.06 L255.27,361.71 L255.93,352.68 L256.60,346.50 L257.20,331.95 L257.80,320.31 L258.40,310.48 L259.15,294.15 L259.90,278.74 L260.40,272.48 L260.90,268.45 L261.55,275.97 L262.20,283.04 L262.95,299.11 L263.70,316.16 L264.27,328.78 L264.83,343.97 L265.40,355.25 L266.10,363.50 L266.80,373.41 L267.50,380.96 L268.12,383.47 L268.75,386.04 L269.38,389.15 L270.00,392.72 L270.75,393.44 L271.50,393.12 L272.25,395.39 L273.00,396.14 L273.71,395.50 L274.43,397.18 L275.14,396.64 L275.86,396.88 L276.57,398.04 L277.29,398.73 L278.00,397.47 L278.76,398.51 L279.52,397.69 L280.28,400.30 L281.04,398.35 L281.80,399.80 L282.56,398.59 L283.32,399.87 L284.08,401.10 L284.84,397.72 L285.60,399.48 L286.35,400.24 L287.10,399.87 L287.85,399.51 L288.60,401.68 L289.35,400.21 L290.10,399.00 L290.85,400.92 L291.60,399.09 L292.35,401.28 L293.10,400.07 L293.89,400.67 L294.68,401.55 L295.46,400.77 L296.25,399.73 L297.04,399.57 L297.82,401.74 L298.61,401.48 L299.40,400.40 L300.13,400.59 L300.87,399.28 L301.60,398.35 L302.33,395.04 L303.07,395.51 L303.80,395.42 L304.60,393.11 L305.40,391.05 L306.20,385.95 L307.00,386.05 L307.65,385.72 L308.30,386.97 L308.95,383.15 L309.60,383.10 L310.35,384.38 L311.10,386.10 L311.85,385.85 L312.60,388.21 L313.36,387.77 L314.12,389.95 L314.88,390.53 L315.64,392.37 L316.40,392.94 L317.14,392.44 L317.88,394.87 L318.62,394.47 L319.36,394.01 L320.10,394.86 L320.86,395.85 L321.62,394.64 L322.38,395.69 L323.14,396.56 L323.90,396.91 L324.66,395.63 L325.42,393.62 L326.18,395.70 L326.94,394.37 L327.70,393.51 L328.32,391.37 L328.95,389.93 L329.57,387.43 L330.20,384.98 L330.82,382.06 L331.45,379.03 L332.07,375.84 L332.70,372.12 L333.32,370.81 L333.95,365.60 L334.57,364.57 L335.20,359.56 L335.85,359.55 L336.50,359.18 L337.15,356.29 L337.80,353.64 L338.43,353.28 L339.05,352.13 L339.68,348.59 L340.30,348.66 L340.97,351.69 L341.63,353.05 L342.30,355.79 L342.87,363.21 L343.43,369.91 L344.00,376.70 L344.65,380.79 L345.30,384.39 L345.95,389.06 L346.60,393.28 L347.34,394.75 L348.08,396.36 L348.82,396.68 L349.56,399.25 L350.30,400.98 L351.06,400.69 L351.82,401.78 L352.58,402.57 L353.34,402.48 L354.10,404.46 L354.81,400.87 L355.53,402.28 L356.24,400.84 L356.96,402.56 L357.67,403.49 L358.39,399.47 L359.10,401.09 L359.83,401.73 L360.56,401.50 L361.29,402.47 L362.01,400.83 L362.74,403.39 L363.47,403.40 L364.20,403.52 L364.96,402.49 L365.72,402.76 L366.48,401.35 L367.24,401.26 L368.00,400.12 L368.74,397.41 L369.48,397.68 L370.22,396.46 L370.96,395.50 L371.70,392.78 L372.46,392.35 L373.22,391.78 L373.98,390.26 L374.74,390.10 L375.50,389.65 L376.26,386.70 L377.02,385.40 L377.78,387.46 L378.54,387.67 L379.30,386.73 L380.06,384.63 L380.82,381.28 L381.58,379.16 L382.34,378.69 L383.10,374.89 L383.84,370.93 L384.58,368.72 L385.32,369.41 L386.06,365.83 L386.80,359.93 L387.45,358.50 L388.10,358.21 L388.75,355.71 L389.40,356.73 L390.02,356.48 L390.65,356.71 L391.27,360.81 L391.90,360.05 L392.52,365.37 L393.15,369.54 L393.77,373.66 L394.40,378.72 L395.16,381.27 L395.92,383.78 L396.68,387.05 L397.44,391.43 L398.20,395.40 L398.94,396.88 L399.68,397.84 L400.42,399.12 L401.16,399.69 L401.90,399.92 L402.66,400.28 L403.42,399.56 L404.18,401.28 L404.94,402.05 L405.70,402.38 L406.36,401.31 L407.02,400.67 L407.68,400.89 L408.34,399.61 L409.00,399.56 L409.77,398.84 L410.53,397.96 L411.30,398.21 L411.96,395.25 L412.62,393.91 L413.28,392.03 L413.94,390.53 L414.60,391.04 L415.23,390.16 L415.85,387.57 L416.48,386.98 L417.10,386.46 L417.73,387.20 L418.35,388.61 L418.98,387.53 L419.60,389.15 L420.23,389.47 L420.85,389.70 L421.48,387.92 L422.10,386.44 L422.88,385.81 L423.65,384.45 L424.43,383.19 L425.20,384.29 L425.82,382.12 L426.45,382.52 L427.07,384.32 L427.70,383.21 L428.45,383.36 L429.20,383.44 L429.95,385.32 L430.70,387.36 L431.36,387.71 L432.02,389.52 L432.68,389.76 L433.34,391.38 L434.00,392.03 L434.66,394.31 L435.32,396.75 L435.98,396.37 L436.64,399.19 L437.30,401.18 L438.00,401.42 L438.70,402.45 L439.40,404.05 L440.10,405.71 L440.80,405.59 L441.50,406.22 L442.23,405.27 L442.96,407.87 L443.69,406.95 L444.41,407.18 L445.14,406.78 L445.87,407.76 L446.60,407.40 L447.31,408.39 L448.03,408.88 L448.74,408.85 L449.46,409.25 L450.17,408.79 L450.89,410.44 L451.60,409.40 L452.31,408.88 L453.03,410.06 L453.74,409.90 L454.46,409.94 L455.17,410.52 L455.89,411.09 L456.60,410.40 L457.33,410.95 L458.06,411.80 L458.79,411.29 L459.51,410.72 L460.24,410.82 L460.97,410.60 L461.70,410.57 L462.50,410.54 L463.30,409.54 L464.10,407.61 L464.90,408.59 L465.50,407.87 L466.10,408.68 L466.70,407.71 L467.38,406.70 L468.06,406.57 L468.74,402.87 L469.42,401.29 L470.10,399.56 L470.73,397.45 L471.35,396.46 L471.98,396.84 L472.60,394.69 L473.23,394.22 L473.85,395.03 L474.48,397.18 L475.10,396.60 L475.73,398.17 L476.35,399.95 L476.98,401.94 L477.60,403.59 L478.23,403.78 L478.85,404.00 L479.48,404.88 L480.10,406.81 L480.78,406.71 L481.46,405.71 L482.14,406.38 L482.82,406.43 L483.50,406.43 L484.16,405.83 L484.82,405.04 L485.48,405.32 L486.14,404.40 L486.80,406.03 L487.53,405.62 L488.26,404.50 L488.99,406.31 L489.71,406.03 L490.44,404.20 L491.17,406.78 L491.90,406.14 L492.61,407.03 L493.33,404.86 L494.04,406.08 L494.76,406.05 L495.47,405.95 L496.19,405.97 L496.90,406.60 L497.61,404.86 L498.33,404.98 L499.04,404.84 L499.76,405.36 L500.47,405.28 L501.19,405.89 L501.90,405.78 L502.58,405.54 L503.26,404.98 L503.94,405.06 L504.62,405.92 L505.30,405.72 L505.96,406.01 L506.62,406.47 L507.28,408.42 L507.94,407.78 L508.60,409.31 L509.36,409.89 L510.11,409.28 L510.87,410.22 L511.63,409.31 L512.39,410.87 L513.14,410.65 L513.90,409.85 L514.70,411.20 L515.50,410.27 L516.30,411.56 L517.10,410.39 L517.90,410.70 L518.70,410.97 L519.50,410.60 L520.30,410.95 L521.10,410.47 L521.90,411.20 L522.70,410.80 L523.50,410.93 L524.30,409.16 L525.10,411.49 L525.90,410.82 L526.70,409.74 L527.50,410.86 L528.30,411.08 L529.10,411.44 L529.90,410.15 L530.66,411.53 L531.41,410.30 L532.17,411.65 L532.93,409.91 L533.69,410.22 L534.44,409.37 L535.20,408.71 L535.93,409.29 L536.67,408.38 L537.40,407.00" fill="none" stroke="#ff0000" stroke-width="1.15" stroke-linejoin="round"/></g>
<clipPath id="clip2"><rect x="95.0" y="496.8" width="442.4" height="178.49999999999994"/></clipPath>
<rect x="95.0" y="496.8" width="442.4" height="178.5" fill="none" stroke="#9c9c9c" stroke-width="1"/>
<line x1="90.0" y1="675.3" x2="95.0" y2="675.3" stroke="#9c9c9c" stroke-width="1"/>
<text x="90.0" y="673.4" font-size="10.2" text-anchor="end" fill="#1e1e1e" font-family="Liberation Sans, sans-serif">0</text>
<line x1="90.5" y1="638.6" x2="95.0" y2="638.6" stroke="#9c9c9c" stroke-width="1"/>
<text x="90.0" y="642.2" font-size="10.2" text-anchor="end" fill="#1e1e1e" font-family="Liberation Sans, sans-serif">1000</text>
<line x1="90.5" y1="602.5" x2="95.0" y2="602.5" stroke="#9c9c9c" stroke-width="1"/>
<text x="90.0" y="606.1" font-size="10.2" text-anchor="end" fill="#1e1e1e" font-family="Liberation Sans, sans-serif">2000</text>
<line x1="90.5" y1="566.5" x2="95.0" y2="566.5" stroke="#9c9c9c" stroke-width="1"/>
<text x="90.0" y="570.1" font-size="10.2" text-anchor="end" fill="#1e1e1e" font-family="Liberation Sans, sans-serif">3000</text>
<line x1="90.5" y1="530.2" x2="95.0" y2="530.2" stroke="#9c9c9c" stroke-width="1"/>
<text x="90.0" y="533.8" font-size="10.2" text-anchor="end" fill="#1e1e1e" font-family="Liberation Sans, sans-serif">4000</text>
<line x1="158.2" y1="675.3" x2="158.2" y2="679.8" stroke="#9c9c9c" stroke-width="1"/>
<text x="158.2" y="689.5" font-size="10.2" text-anchor="middle" fill="#1e1e1e" font-family="Liberation Sans, sans-serif">20</text>
<line x1="284.6" y1="675.3" x2="284.6" y2="679.8" stroke="#9c9c9c" stroke-width="1"/>
<text x="284.6" y="689.5" font-size="10.2" text-anchor="middle" fill="#1e1e1e" font-family="Liberation Sans, sans-serif">40</text>
<line x1="411.0" y1="675.3" x2="411.0" y2="679.8" stroke="#9c9c9c" stroke-width="1"/>
<text x="411.0" y="689.5" font-size="10.2" text-anchor="middle" fill="#1e1e1e" font-family="Liberation Sans, sans-serif">60</text>
<line x1="537.4" y1="675.3" x2="537.4" y2="679.8" stroke="#9c9c9c" stroke-width="1"/>
<text x="537.4" y="689.5" font-size="10.2" text-anchor="middle" fill="#1e1e1e" font-family="Liberation Sans, sans-serif">80</text>
<text x="316.2" y="707.3" font-size="10" text-anchor="middle" fill="#1e1e1e" font-family="Liberation Sans, sans-serif">2-theta (deg)</text>
<text transform="translate(37.8,586) rotate(-90)" font-size="10" text-anchor="middle" fill="#1e1e1e" font-family="Liberation Sans, sans-serif">Intensity (cps)</text>
<text x="7.9" y="521.7" font-size="18" fill="#111" font-family="Liberation Sans, sans-serif">(c)</text>
<text x="357.4" y="512.2" font-size="8.2" fill="#1e1e1e" font-family="Liberation Sans, sans-serif">Meas. data:CEPO4-III</text>
<text x="357.4" y="523.8" font-size="8.2" fill="#1e1e1e" font-family="Liberation Sans, sans-serif">Rhabdophane-(Ce), Ce O4 P, 9010969</text>
<line x1="506.6" y1="509.2" x2="517.3" y2="509.2" stroke="#ff2020" stroke-width="1.3"/>
<line x1="506.6" y1="520.8" x2="517.3" y2="520.8" stroke="#2020ff" stroke-width="1.3"/>
<g clip-path="url(#clip2)"><line x1="137.3" y1="563.5" x2="137.3" y2="581.1" stroke="#1c1cff" stroke-width="1.25"/><line x1="178" y1="574.3" x2="178" y2="591.9" stroke="#1c1cff" stroke-width="1.25"/><line x1="215.9" y1="605.7" x2="215.9" y2="613.3" stroke="#1c1cff" stroke-width="1.25"/><line x1="242.6" y1="620.8" x2="242.6" y2="628.4" stroke="#1c1cff" stroke-width="1.25"/><line x1="243.9" y1="620.8" x2="243.9" y2="628.4" stroke="#1c1cff" stroke-width="1.25"/><line x1="245.3" y1="613.3" x2="245.3" y2="628.4" stroke="#1c1cff" stroke-width="1.25"/><line x1="261.7" y1="590.1" x2="261.7" y2="635.4" stroke="#1c1cff" stroke-width="1.25"/><line x1="269.2" y1="636.5" x2="269.2" y2="638" stroke="#1c1cff" stroke-width="1.25"/><line x1="309.6" y1="633.4" x2="309.6" y2="646" stroke="#1c1cff" stroke-width="1.25"/><line x1="318.1" y1="644.5" x2="318.1" y2="646" stroke="#1c1cff" stroke-width="1.25"/><line x1="330.7" y1="644.5" x2="330.7" y2="646" stroke="#1c1cff" stroke-width="1.25"/><line x1="337.6" y1="634.7" x2="337.6" y2="646" stroke="#1c1cff" stroke-width="1.25"/><line x1="341.2" y1="634.7" x2="341.2" y2="646" stroke="#1c1cff" stroke-width="1.25"/><line x1="359.8" y1="642.5" x2="359.8" y2="645" stroke="#1c1cff" stroke-width="1.25"/><line x1="361.2" y1="642.5" x2="361.2" y2="645" stroke="#1c1cff" stroke-width="1.25"/><line x1="376" y1="640.5" x2="376" y2="644.8" stroke="#1c1cff" stroke-width="1.25"/><line x1="389.4" y1="627.1" x2="389.4" y2="646" stroke="#1c1cff" stroke-width="1.25"/><line x1="398.7" y1="643.5" x2="398.7" y2="645.5" stroke="#1c1cff" stroke-width="1.25"/><line x1="415.1" y1="641" x2="415.1" y2="646" stroke="#1c1cff" stroke-width="1.25"/><line x1="416.6" y1="641" x2="416.6" y2="646" stroke="#1c1cff" stroke-width="1.25"/><line x1="425.2" y1="641.5" x2="425.2" y2="647.3" stroke="#1c1cff" stroke-width="1.25"/><line x1="431.5" y1="646" x2="431.5" y2="647.8" stroke="#1c1cff" stroke-width="1.25"/><line x1="447.8" y1="647" x2="447.8" y2="649.8" stroke="#1c1cff" stroke-width="1.25"/><line x1="468" y1="652" x2="468" y2="654" stroke="#1c1cff" stroke-width="1.25"/><line x1="472.5" y1="648" x2="472.5" y2="653.7" stroke="#1c1cff" stroke-width="1.25"/><line x1="482.3" y1="651" x2="482.3" y2="654.5" stroke="#1c1cff" stroke-width="1.25"/><line x1="491.7" y1="650" x2="491.7" y2="655.6" stroke="#1c1cff" stroke-width="1.25"/><line x1="500.2" y1="654" x2="500.2" y2="655.6" stroke="#1c1cff" stroke-width="1.25"/><line x1="505" y1="651.9" x2="505" y2="655.6" stroke="#1c1cff" stroke-width="1.25"/><text transform="translate(140.5,543.7) rotate(-90)" font-size="8.4" letter-spacing="0.3" fill="#1a1aff" stroke="#1a1aff" stroke-width="0.2" font-family="Liberation Sans, sans-serif">(1 0 0)</text><text transform="translate(181.5,553.8) rotate(-90)" font-size="8.4" letter-spacing="0.3" fill="#1a1aff" stroke="#1a1aff" stroke-width="0.2" font-family="Liberation Sans, sans-serif">(1 0 1)</text><text transform="translate(219.3,584.0) rotate(-90)" font-size="8.4" letter-spacing="0.3" fill="#1a1aff" stroke="#1a1aff" stroke-width="0.2" font-family="Liberation Sans, sans-serif">(1 1 0)</text><text transform="translate(246.0,601.6) rotate(-90)" font-size="8.4" letter-spacing="0.3" fill="#1a1aff" stroke="#1a1aff" stroke-width="0.2" font-family="Liberation Sans, sans-serif">(1 1 1)</text><text transform="translate(247.8,575.4) rotate(-90)" font-size="8.4" letter-spacing="0.3" fill="#1a1aff" stroke="#1a1aff" stroke-width="0.2" font-family="Liberation Sans, sans-serif">(2 0 0)</text><text transform="translate(265.1,568.9) rotate(-90)" font-size="8.4" letter-spacing="0.3" fill="#1a1aff" stroke="#1a1aff" stroke-width="0.2" font-family="Liberation Sans, sans-serif">(1 0 2)</text><text transform="translate(272.2,617.9) rotate(-90)" font-size="8.4" letter-spacing="0.3" fill="#1a1aff" stroke="#1a1aff" stroke-width="0.2" font-family="Liberation Sans, sans-serif">(2 0 1)</text><text transform="translate(312.2,612.2) rotate(-90)" font-size="8.4" letter-spacing="0.3" fill="#1a1aff" stroke="#1a1aff" stroke-width="0.2" font-family="Liberation Sans, sans-serif">(1 1 2)</text><text transform="translate(321.1,586.0) rotate(-90)" font-size="8.4" letter-spacing="0.3" fill="#1a1aff" stroke="#1a1aff" stroke-width="0.2" font-family="Liberation Sans, sans-serif">(2 1 0)</text><text transform="translate(333.7,624.3) rotate(-90)" font-size="8.4" letter-spacing="0.3" fill="#1a1aff" stroke="#1a1aff" stroke-width="0.2" font-family="Liberation Sans, sans-serif">(2 0 2)</text><text transform="translate(340.5,597.9) rotate(-90)" font-size="8.4" letter-spacing="0.3" fill="#1a1aff" stroke="#1a1aff" stroke-width="0.2" font-family="Liberation Sans, sans-serif">(2 1 1)</text><text transform="translate(344.2,571.4) rotate(-90)" font-size="8.4" letter-spacing="0.3" fill="#1a1aff" stroke="#1a1aff" stroke-width="0.2" font-family="Liberation Sans, sans-serif">(0 0 3)</text><text transform="translate(363.4,623.0) rotate(-90)" font-size="8.4" letter-spacing="0.3" fill="#1a1aff" stroke="#1a1aff" stroke-width="0.2" font-family="Liberation Sans, sans-serif">(3 0 0)(1 0 3)</text><text transform="translate(379.0,619.7) rotate(-90)" font-size="8.4" letter-spacing="0.3" fill="#1a1aff" stroke="#1a1aff" stroke-width="0.2" font-family="Liberation Sans, sans-serif">(3 0 1)</text><text transform="translate(391.6,605.4) rotate(-90)" font-size="8.4" letter-spacing="0.3" fill="#1a1aff" stroke="#1a1aff" stroke-width="0.2" font-family="Liberation Sans, sans-serif">(2 1 2)</text><text transform="translate(401.6,578.9) rotate(-90)" font-size="8.4" letter-spacing="0.3" fill="#1a1aff" stroke="#1a1aff" stroke-width="0.2" font-family="Liberation Sans, sans-serif">(1 1 3)</text><text transform="translate(418.1,619.2) rotate(-90)" font-size="8.4" letter-spacing="0.3" fill="#1a1aff" stroke="#1a1aff" stroke-width="0.2" font-family="Liberation Sans, sans-serif">(2 2 0)(2 0 3)</text><text transform="translate(427.4,621.7) rotate(-90)" font-size="8.4" letter-spacing="0.3" fill="#1a1aff" stroke="#1a1aff" stroke-width="0.2" font-family="Liberation Sans, sans-serif">(3 0 2)</text><text transform="translate(432.4,624.3) rotate(-90)" font-size="8.4" letter-spacing="0.3" fill="#1a1aff" stroke="#1a1aff" stroke-width="0.2" font-family="Liberation Sans, sans-serif">(3 1 0)</text><text transform="translate(433.6,596.6) rotate(-90)" font-size="8.4" letter-spacing="0.3" fill="#1a1aff" stroke="#1a1aff" stroke-width="0.2" font-family="Liberation Sans, sans-serif">(2 2 1)</text><text transform="translate(450.5,625.5) rotate(-90)" font-size="8.4" letter-spacing="0.3" fill="#1a1aff" stroke="#1a1aff" stroke-width="0.2" font-family="Liberation Sans, sans-serif">(3 1 1)</text><text transform="translate(469.7,631.8) rotate(-90)" font-size="8.4" letter-spacing="0.3" fill="#1a1aff" stroke="#1a1aff" stroke-width="0.2" font-family="Liberation Sans, sans-serif">(2 1 3)</text><text transform="translate(475.2,606.6) rotate(-90)" font-size="8.4" letter-spacing="0.3" fill="#1a1aff" stroke="#1a1aff" stroke-width="0.2" font-family="Liberation Sans, sans-serif">(1 0 4)</text><text transform="translate(477.0,633.1) rotate(-90)" font-size="8.4" letter-spacing="0.3" fill="#1a1aff" stroke="#1a1aff" stroke-width="0.2" font-family="Liberation Sans, sans-serif">(2 2 2)</text><text transform="translate(484.2,606.6) rotate(-90)" font-size="8.4" letter-spacing="0.3" fill="#1a1aff" stroke="#1a1aff" stroke-width="0.2" font-family="Liberation Sans, sans-serif">(4 0 0)</text><text transform="translate(499.8,635.8) rotate(-90)" font-size="8.4" letter-spacing="0.3" fill="#1a1aff" stroke="#1a1aff" stroke-width="0.2" font-family="Liberation Sans, sans-serif">(4 0 1)(3 0 3)</text><text transform="translate(495.0,580.9) rotate(-90)" font-size="8.4" letter-spacing="0.3" fill="#1a1aff" stroke="#1a1aff" stroke-width="0.2" font-family="Liberation Sans, sans-serif">(3 1 2)</text><text transform="translate(508.0,582.9) rotate(-90)" font-size="8.4" letter-spacing="0.3" fill="#1a1aff" stroke="#1a1aff" stroke-width="0.2" font-family="Liberation Sans, sans-serif">(1 1 4)</text><text transform="translate(524.2,633.9) rotate(-90)" font-size="8.4" letter-spacing="0.3" fill="#1a1aff" stroke="#1a1aff" stroke-width="0.2" font-family="Liberation Sans, sans-serif">(2 0 4)</text><text transform="translate(533.6,608.4) rotate(-90)" font-size="8.4" letter-spacing="0.3" fill="#1a1aff" stroke="#1a1aff" stroke-width="0.2" font-family="Liberation Sans, sans-serif">(3 2 0)</text><path d="M95.00,514.69 L95.62,515.29 L96.25,514.83 L96.88,513.94 L97.50,516.60 L98.12,518.14 L98.75,519.49 L99.38,523.39 L100.00,524.54 L100.76,525.32 L101.52,527.80 L102.28,529.04 L103.04,531.38 L103.80,534.01 L104.56,536.09 L105.32,535.23 L106.08,535.71 L106.84,542.07 L107.60,541.78 L108.36,544.81 L109.12,542.08 L109.88,545.60 L110.64,547.64 L111.40,546.92 L112.14,549.85 L112.88,553.22 L113.62,555.26 L114.36,557.53 L115.10,555.44 L115.86,555.40 L116.62,558.94 L117.38,560.28 L118.14,559.94 L118.90,558.53 L119.66,561.79 L120.42,562.06 L121.18,561.97 L121.94,560.74 L122.70,562.14 L123.46,563.09 L124.22,561.42 L124.98,559.85 L125.74,563.21 L126.50,563.68 L127.24,563.26 L127.98,564.74 L128.72,562.89 L129.46,563.84 L130.20,563.77 L130.85,564.71 L131.50,565.87 L132.15,562.94 L132.80,565.93 L133.43,565.47 L134.05,564.72 L134.68,564.73 L135.30,566.71 L135.93,564.57 L136.55,565.29 L137.18,564.58 L137.80,567.36 L138.43,569.53 L139.05,569.34 L139.68,570.13 L140.30,570.22 L141.06,571.49 L141.82,570.07 L142.58,574.21 L143.34,572.98 L144.10,572.81 L144.86,573.79 L145.62,574.19 L146.38,576.95 L147.14,577.72 L147.90,574.99 L148.61,578.75 L149.33,579.40 L150.04,578.18 L150.76,577.70 L151.47,579.40 L152.19,580.26 L152.90,582.25 L153.61,580.98 L154.33,578.44 L155.04,581.03 L155.76,578.36 L156.47,581.20 L157.19,578.07 L157.90,578.39 L158.63,578.36 L159.36,578.96 L160.09,581.56 L160.81,581.16 L161.54,581.02 L162.27,580.83 L163.00,578.58 L163.74,579.42 L164.48,578.87 L165.22,577.81 L165.96,579.27 L166.70,577.12 L167.46,576.13 L168.22,574.66 L168.98,572.27 L169.74,574.83 L170.50,574.81 L171.12,571.99 L171.75,569.16 L172.38,565.51 L173.00,568.24 L173.67,567.61 L174.33,564.22 L175.00,563.03 L175.60,562.99 L176.20,561.66 L176.80,558.56 L177.47,561.55 L178.13,561.98 L178.80,559.50 L179.43,563.33 L180.05,564.10 L180.68,568.15 L181.30,571.30 L182.08,571.57 L182.85,572.79 L183.62,579.80 L184.40,581.09 L185.14,584.01 L185.88,581.90 L186.62,586.45 L187.36,589.23 L188.10,590.62 L188.86,588.60 L189.62,589.95 L190.38,590.19 L191.14,592.37 L191.90,593.17 L192.66,593.03 L193.42,592.29 L194.18,595.85 L194.94,595.42 L195.70,597.75 L196.46,597.81 L197.22,599.92 L197.98,599.84 L198.74,598.47 L199.50,599.91 L200.20,602.16 L200.90,600.08 L201.60,601.80 L202.30,603.27 L203.00,603.94 L203.67,602.93 L204.33,600.65 L205.00,600.55 L205.71,601.93 L206.43,601.73 L207.14,603.88 L207.86,599.57 L208.57,601.54 L209.29,600.76 L210.00,597.54 L210.77,598.11 L211.53,598.83 L212.30,597.62 L213.07,597.58 L213.83,597.89 L214.60,595.94 L215.30,597.97 L216.00,597.19 L216.70,597.82 L217.40,599.61 L218.10,598.83 L218.87,601.30 L219.63,604.27 L220.40,603.93 L221.17,605.20 L221.93,607.65 L222.70,607.90 L223.44,610.09 L224.18,608.10 L224.92,610.77 L225.66,610.15 L226.40,610.44 L227.16,613.60 L227.92,611.19 L228.68,614.37 L229.44,613.60 L230.20,614.84 L230.96,611.50 L231.72,613.06 L232.48,612.59 L233.24,610.13 L234.00,609.36 L234.66,610.45 L235.32,606.18 L235.98,603.74 L236.64,601.74 L237.30,601.22 L237.93,597.32 L238.55,593.37 L239.18,591.52 L239.80,585.18 L240.55,584.81 L241.30,584.69 L242.05,580.09 L242.80,581.36 L243.47,582.14 L244.13,577.68 L244.80,577.75 L245.43,580.07 L246.05,581.27 L246.68,586.45 L247.30,585.77 L248.05,592.49 L248.80,597.39 L249.55,597.53 L250.30,602.84 L250.95,602.81 L251.60,607.62 L252.25,607.72 L252.90,610.01 L253.57,608.83 L254.23,607.84 L254.90,605.31 L255.53,600.69 L256.15,594.99 L256.77,590.77 L257.40,584.11 L258.02,581.28 L258.65,574.22 L259.27,571.73 L259.90,570.67 L260.65,566.21 L261.40,562.42 L262.15,568.96 L262.90,571.68 L263.57,578.41 L264.23,587.21 L264.90,596.58 L265.55,601.17 L266.20,605.64 L266.85,609.77 L267.50,614.68 L268.25,620.31 L269.00,622.34 L269.75,624.35 L270.50,626.46 L271.26,628.42 L272.02,633.14 L272.78,631.17 L273.54,633.37 L274.30,634.88 L275.01,634.92 L275.73,635.18 L276.44,634.61 L277.16,635.24 L277.87,637.90 L278.59,636.21 L279.30,637.90 L280.09,635.96 L280.88,637.30 L281.66,637.90 L282.45,638.70 L283.24,637.09 L284.03,638.66 L284.81,638.65 L285.60,637.90 L286.31,639.06 L287.03,638.11 L287.74,638.37 L288.46,639.17 L289.17,637.17 L289.89,639.44 L290.60,638.90 L291.31,638.64 L292.03,639.59 L292.74,640.65 L293.46,639.83 L294.17,641.28 L294.89,639.46 L295.60,639.46 L296.33,641.45 L297.06,640.25 L297.79,640.40 L298.51,638.69 L299.24,639.72 L299.97,639.00 L300.70,639.03 L301.46,637.76 L302.22,637.98 L302.98,635.67 L303.74,634.64 L304.50,633.43 L305.12,634.76 L305.75,632.15 L306.38,630.93 L307.00,630.06 L307.65,629.87 L308.30,628.50 L308.95,628.76 L309.60,627.82 L310.35,628.85 L311.10,629.43 L311.85,631.28 L312.60,631.79 L313.36,633.06 L314.12,633.94 L314.88,634.77 L315.64,633.38 L316.40,635.55 L317.14,635.57 L317.88,637.13 L318.62,635.40 L319.36,636.37 L320.10,636.96 L320.86,637.18 L321.62,638.54 L322.38,637.62 L323.14,639.03 L323.90,637.31 L324.66,636.25 L325.42,637.99 L326.18,636.59 L326.94,635.87 L327.70,634.81 L328.32,633.55 L328.95,630.47 L329.57,630.83 L330.20,627.91 L330.95,626.81 L331.70,623.43 L332.45,618.87 L333.20,616.99 L333.86,617.96 L334.52,615.16 L335.18,613.38 L335.84,612.56 L336.50,610.34 L337.12,609.26 L337.75,609.01 L338.38,608.11 L339.00,608.68 L339.67,606.22 L340.33,607.45 L341.00,606.54 L341.60,608.51 L342.20,609.86 L342.80,610.94 L343.43,614.72 L344.05,618.21 L344.68,621.41 L345.30,625.84 L346.06,627.57 L346.82,631.90 L347.58,633.15 L348.34,634.56 L349.10,635.61 L349.86,637.92 L350.62,638.38 L351.38,638.61 L352.14,639.34 L352.90,639.23 L353.64,641.69 L354.38,641.43 L355.12,643.73 L355.86,641.94 L356.60,642.09 L357.33,643.08 L358.06,641.82 L358.79,641.60 L359.51,640.94 L360.24,640.51 L360.97,641.93 L361.70,641.29 L362.44,642.19 L363.18,640.91 L363.92,641.54 L364.66,641.18 L365.40,642.95 L366.16,640.37 L366.92,641.17 L367.68,640.86 L368.44,640.38 L369.20,637.73 L369.96,638.64 L370.72,636.39 L371.48,635.58 L372.24,634.34 L373.00,635.69 L373.76,635.62 L374.52,633.18 L375.28,632.54 L376.04,632.40 L376.80,634.41 L377.54,632.33 L378.28,630.19 L379.02,628.30 L379.76,628.55 L380.50,629.49 L381.26,628.63 L382.02,625.11 L382.78,623.17 L383.54,621.82 L384.30,618.93 L384.96,620.21 L385.62,616.69 L386.28,617.40 L386.94,613.01 L387.60,611.96 L388.20,612.61 L388.80,610.48 L389.40,611.15 L390.02,611.38 L390.65,611.20 L391.27,614.18 L391.90,615.48 L392.54,615.40 L393.18,621.94 L393.82,623.36 L394.46,626.36 L395.10,626.69 L395.82,629.51 L396.54,631.61 L397.26,634.61 L397.98,634.20 L398.70,636.47 L399.50,636.19 L400.30,638.32 L401.10,639.46 L401.90,638.49 L402.70,640.03 L403.40,640.79 L404.10,641.53 L404.80,640.69 L405.50,639.80 L406.20,638.99 L406.90,639.06 L407.60,639.17 L408.34,639.08 L409.08,638.18 L409.82,638.86 L410.56,636.98 L411.30,635.10 L412.06,636.30 L412.82,634.78 L413.58,633.03 L414.34,631.28 L415.10,629.22 L415.86,629.58 L416.62,630.92 L417.38,628.97 L418.14,628.10 L418.90,629.08 L419.66,629.28 L420.42,629.77 L421.18,629.98 L421.94,630.82 L422.70,628.94 L423.44,630.23 L424.18,628.08 L424.92,629.26 L425.66,628.43 L426.40,628.13 L427.16,629.15 L427.92,628.60 L428.68,630.00 L429.44,630.14 L430.20,629.82 L430.96,630.45 L431.72,631.56 L432.48,633.02 L433.24,634.57 L434.00,635.98 L434.76,639.71 L435.52,639.00 L436.28,640.34 L437.04,640.28 L437.80,641.65 L438.51,642.50 L439.23,643.43 L439.94,643.05 L440.66,645.58 L441.37,644.50 L442.09,646.25 L442.80,644.30 L443.51,646.42 L444.23,647.06 L444.94,647.42 L445.66,648.14 L446.37,648.34 L447.09,648.68 L447.80,647.70 L448.53,648.72 L449.26,647.83 L449.99,650.07 L450.71,650.07 L451.44,649.94 L452.17,649.73 L452.90,650.11 L453.61,651.99 L454.33,652.16 L455.04,651.23 L455.76,652.37 L456.47,650.75 L457.19,650.79 L457.90,651.99 L458.61,651.55 L459.33,651.57 L460.04,651.87 L460.76,653.54 L461.47,650.94 L462.19,651.22 L462.90,651.18 L463.66,650.48 L464.42,650.63 L465.18,650.71 L465.94,648.14 L466.70,648.61 L467.46,647.05 L468.22,646.24 L468.98,643.58 L469.74,642.13 L470.50,640.41 L471.25,641.96 L472.00,641.05 L472.75,640.31 L473.50,637.70 L474.27,640.00 L475.05,640.41 L475.83,640.60 L476.60,641.69 L477.30,643.88 L478.00,644.71 L478.70,645.23 L479.40,646.57 L480.11,645.88 L480.82,646.48 L481.54,646.57 L482.25,647.05 L482.96,646.71 L483.68,646.77 L484.39,646.89 L485.10,646.64 L485.81,648.82 L486.53,647.72 L487.24,647.78 L487.95,649.22 L488.66,648.72 L489.38,646.75 L490.09,648.46 L490.80,648.69 L491.51,649.30 L492.23,648.78 L492.94,648.27 L493.65,646.77 L494.36,646.86 L495.07,647.54 L495.79,647.58 L496.50,646.37 L497.24,647.13 L497.98,647.42 L498.72,648.04 L499.46,648.53 L500.20,648.40 L500.91,647.44 L501.62,648.87 L502.34,648.83 L503.05,647.32 L503.76,647.83 L504.47,647.12 L505.19,646.98 L505.90,646.55 L506.66,646.21 L507.42,647.73 L508.18,648.59 L508.94,647.82 L509.70,650.36 L510.50,650.70 L511.30,650.79 L512.10,651.16 L512.90,650.59 L513.70,650.13 L514.50,650.23 L515.30,650.36 L516.01,651.10 L516.72,651.13 L517.44,651.72 L518.15,650.07 L518.86,653.04 L519.58,653.14 L520.29,651.76 L521.00,652.34 L521.71,652.21 L522.42,652.08 L523.14,651.76 L523.85,651.82 L524.56,651.36 L525.28,652.02 L525.99,651.88 L526.70,652.11 L527.50,651.20 L528.30,651.64 L529.10,651.50 L529.90,651.73 L530.70,650.48 L531.50,651.32 L532.30,651.55 L533.06,651.12 L533.82,650.29 L534.58,650.03 L535.34,650.02 L536.10,650.49 L536.75,650.80 L537.40,649.50" fill="none" stroke="#ff0000" stroke-width="1.15" stroke-linejoin="round"/></g>
</svg>
</body></html>
